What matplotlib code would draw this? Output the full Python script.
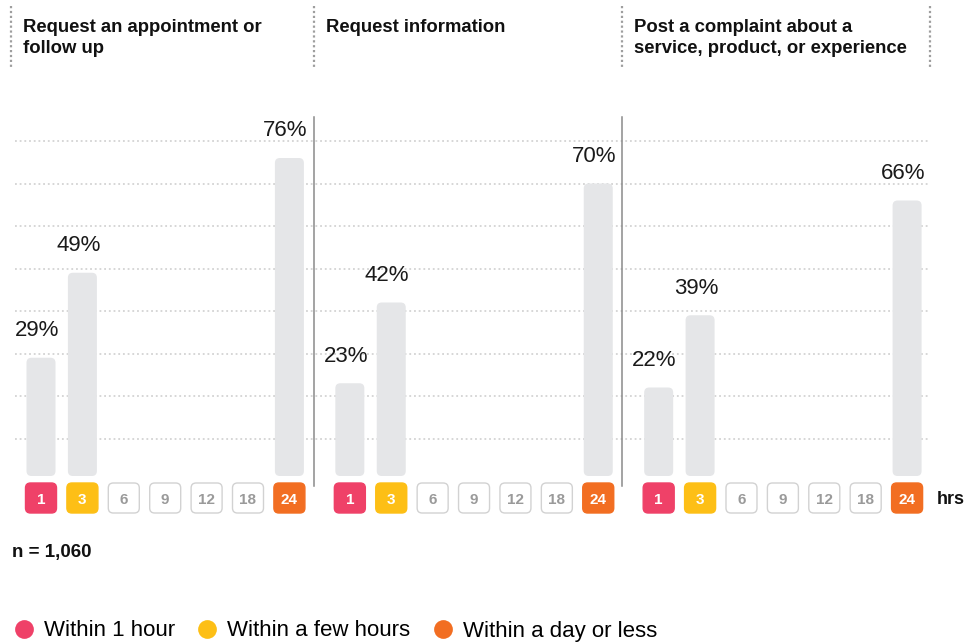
import matplotlib.pyplot as plt
from matplotlib.patches import FancyBboxPatch
from matplotlib.lines import Line2D

# ----------------------------------------------------
# data
# ----------------------------------------------------
categories = ["Request an appointment or\nfollow up",
              "Request information",
              "Post a complaint about a\nservice, product, or experience"]
hour_ticks = ["1", "3", "6", "9", "12", "18", "24"]
within_1h = [29, 23, 22]
within_few = [49, 42, 39]
within_day = [76, 70, 66]
legend_labels = ["Within 1 hour", "Within a few hours", "Within a day or less"]
grid_levels = [10, 20, 30, 40, 50, 60, 70, 80]
sample_note = "n = 1,060"

# ----------------------------------------------------
# styling / layout
# ----------------------------------------------------
plt.rcParams['font.family'] = ['Liberation Sans', 'DejaVu Sans']
RED, YEL, ORA = "#EF4168", "#FDBF16", "#F26E22"
BAR_C = "#E5E6E8"
W, H = 979, 642
PX_X = 41.4          # px per slot
PX_Y = 4.25          # px per percent
X0, Y0 = 41, 481     # pixel of slot 0 / 0%
PANEL = 7.46         # slots between panels

def sx(px):  # pixel x -> data x
    return (px - X0) / PX_X

def sy(py):  # pixel y (from top) -> data y
    return (Y0 - py) / PX_Y

fig = plt.figure(figsize=(W / 100, H / 100), dpi=100)
ax = fig.add_axes([0, 0, 1, 1])
ax.set_xlim(sx(0), sx(W))
ax.set_ylim(sy(H), sy(0))
ax.axis('off')
asp = PX_X / PX_Y

# gridlines
for g in grid_levels:
    ax.plot([sx(15), sx(930)], [g, g], color="#D3D3D3", lw=1.3,
            ls=(0, (1, 1.6)), zorder=1)

# bars
bw = 29 / PX_X
base = sy(476)
slot_colors = [RED, YEL] + [None] * 4 + [ORA]
for p in range(len(categories)):
    off = p * PANEL
    vals = {0: within_1h[p], 1: within_few[p], 6: within_day[p]}
    for s, v in vals.items():
        x = off + s
        bar = FancyBboxPatch((x - bw / 2, base), bw, v - base,
                             boxstyle=f"round,pad=0,rounding_size={5 / PX_X}",
                             mutation_aspect=asp, fc=BAR_C, ec="none", zorder=2)
        ax.add_patch(bar)
        ax.annotate(f"{v}%", (x, v), xytext=(-3, 12), textcoords="offset points",
                    ha="center", va="bottom", fontsize=16, color="#1a1a1a")

    # hour badges
    bwid, bh = 31 / PX_X, 30 / PX_Y
    btop = sy(483)
    for s, lab in enumerate(hour_ticks):
        x = off + s
        c = slot_colors[s]
        badge = FancyBboxPatch((x - bwid / 2, btop - bh), bwid, bh,
                               boxstyle=f"round,pad=0,rounding_size={5 / PX_X}",
                               mutation_aspect=asp,
                               fc=c if c else "white",
                               ec=c if c else "#D2D2D2", lw=1, zorder=3)
        ax.add_patch(badge)
        ax.text(x, btop - bh / 2, lab, ha="center", va="center_baseline",
                fontsize=11, fontweight="bold",
                color="white" if c else "#9A9A9A", zorder=4)

    # solid separator between panels
    if p > 0:
        ax.plot([off - 0.875, off - 0.875], [sy(117), sy(486)],
                color="#8A8A8A", lw=1.1, zorder=3)

# header dotted dividers and titles
head_x = [sx(11), PANEL - 0.875, 2 * PANEL - 0.875, sx(930)]
for hx in head_x:
    ax.plot([hx, hx], [sy(6), sy(68)], color="#9E9E9E", lw=1.6,
            ls=(0, (1, 1.2)), zorder=1)
for p, cat in enumerate(categories):
    ax.text(head_x[p] + 12 / PX_X, sy(19), cat, ha="left", va="top",
            fontsize=13.3, fontweight="bold", color="#111111", linespacing=1.32)

# hrs label
ax.text(sx(937), sy(498), "hrs", ha="left", va="center_baseline",
        fontsize=13, fontweight="bold", color="#111111")

# sample size
fig.text(12 / W, 1 - 553 / H, sample_note, ha="left", va="center",
         fontsize=13.5, fontweight="bold", color="#111111")

# legend
handles = [Line2D([], [], ls="none", marker="o", markersize=13.5,
                  markerfacecolor=c, markeredgecolor="none")
           for c in (RED, YEL, ORA)]
fig.legend(handles, legend_labels, loc="center left",
           bbox_to_anchor=(13 / W, 1 - 631 / H), ncol=3, frameon=False,
           fontsize=16, handlelength=1.0, handletextpad=0.4,
           columnspacing=0.95, borderpad=0, borderaxespad=0)

plt.savefig("out.png", dpi=100)
